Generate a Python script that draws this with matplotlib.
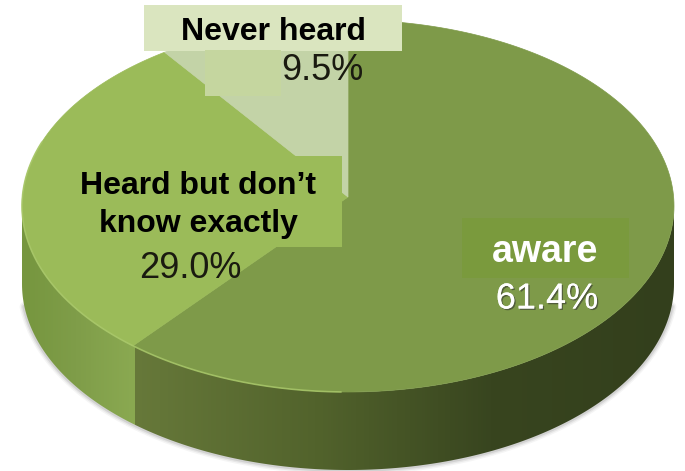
import numpy as np
import matplotlib
matplotlib.use("Agg")
import matplotlib.pyplot as plt
from matplotlib.colors import LinearSegmentedColormap
from matplotlib.patches import Polygon, Rectangle
import matplotlib.patheffects as pe

# slices, clockwise from 12 o'clock
labels = ["aware", "Heard but don\u2019t\nknow exactly", "Never heard"]
values = [61.4, 29.0, 9.5]
top_colors = ["#7e9a49", "#9bbb59", "#c3d3a7"]
pct_colors = ["white", "#1a1a10", "#1a1a10"]

# ellipse of the top face, in pixels
cx, cy, rx, ry = 348, 206, 326, 186
apex_y = 197
depth = 78


def rim(start_deg, end_deg, n=200):
    a = np.radians(np.linspace(start_deg, end_deg, n))
    return cx + rx * np.sin(a), cy - ry * np.cos(a)


fig = plt.figure(figsize=(6.85, 4.71), dpi=100)
ax = fig.add_axes([0, 0, 1, 1])
ax.set_xlim(0, 685)
ax.set_ylim(471, 0)
ax.axis("off")

fracs = np.array(values) / sum(values)
edges = np.concatenate([[0], np.cumsum(fracs) * 360])
split_x = rim(edges[1], edges[1], 1)[0][0]

xs, ys = rim(90, 270)
wall_xy = np.column_stack([np.r_[xs, xs[::-1]], np.r_[ys, ys[::-1] + depth]])

# soft shadow under the wall only
bx, by = rim(97, 263)
for w, al in zip([7, 5, 3], [0.06, 0.09, 0.14]):
    ax.plot(bx, by + depth, color="#555555", lw=w, alpha=al, zorder=1, solid_capstyle="round")

# wall with horizontal shading, split at the slice boundary
split = (split_x - 22) / 653
wall_cmap = LinearSegmentedColormap.from_list("wall", [
    (0.0, "#76963f"), (0.08, "#7f9d49"), (split - 0.001, "#8aa951"),
    (split, "#67793a"), (0.45, "#52632c"), (0.72, "#38451f"), (1.0, "#333f1c")])
grad = np.linspace(0, 1, 653).reshape(1, -1)
im = ax.imshow(grad, cmap=wall_cmap, extent=[22, 675, 480, 190], aspect="auto", zorder=2)
im.set_clip_path(Polygon(wall_xy, closed=True, transform=ax.transData))
ax.set_xlim(0, 685)
ax.set_ylim(471, 0)

# top face
for i, col in enumerate(top_colors):
    rx_pts, ry_pts = rim(edges[i], edges[i + 1])
    pts = np.column_stack([np.r_[cx, rx_pts], np.r_[apex_y, ry_pts]])
    ax.add_patch(Polygon(pts, closed=True, fc=col, ec=col, lw=0.5, zorder=3))

# light edge along the front of the top face
xs, ys = rim(edges[1] - 40, 290)
ax.plot(xs, ys, color="#a9c86a", lw=1.2, alpha=0.8, zorder=4)

# label boxes
ax.add_patch(Rectangle((144, 5), 258, 46, fc="#dae5bf", ec="none", zorder=5))
ax.add_patch(Rectangle((205, 50), 76, 46, fc="#c5d69f", ec="none", zorder=5))
ax.add_patch(Rectangle((54, 156), 288, 91, fc="#9bbb59", ec="none", zorder=5))
ax.add_patch(Rectangle((462, 218), 167, 60, fc="#7a9a3d", ec="none", zorder=5))

bold = dict(family="Liberation Sans", weight="bold", ha="center", va="center", zorder=6)
ax.text(545, 252, labels[0], color="white", fontsize=27, **bold)
ax.text(198, 205, labels[1], color="black", fontsize=23, linespacing=1.36, **bold)
ax.text(273, 32, labels[2], color="black", fontsize=23, **bold)

pct = dict(family="Liberation Sans", ha="center", va="center", zorder=6, fontsize=26)
t = ax.text(547, 299, f"{values[0]}%", color=pct_colors[0], **pct)
t.set_path_effects([pe.withSimplePatchShadow(offset=(1, -1), shadow_rgbFace="#333333", alpha=0.6), pe.Normal()])
ax.text(190, 268, f"{values[1]}%", color=pct_colors[1], **pct)
ax.text(322, 71, f"{values[2]}%", color=pct_colors[2], **pct)

fig.savefig("out.png", dpi=100)
